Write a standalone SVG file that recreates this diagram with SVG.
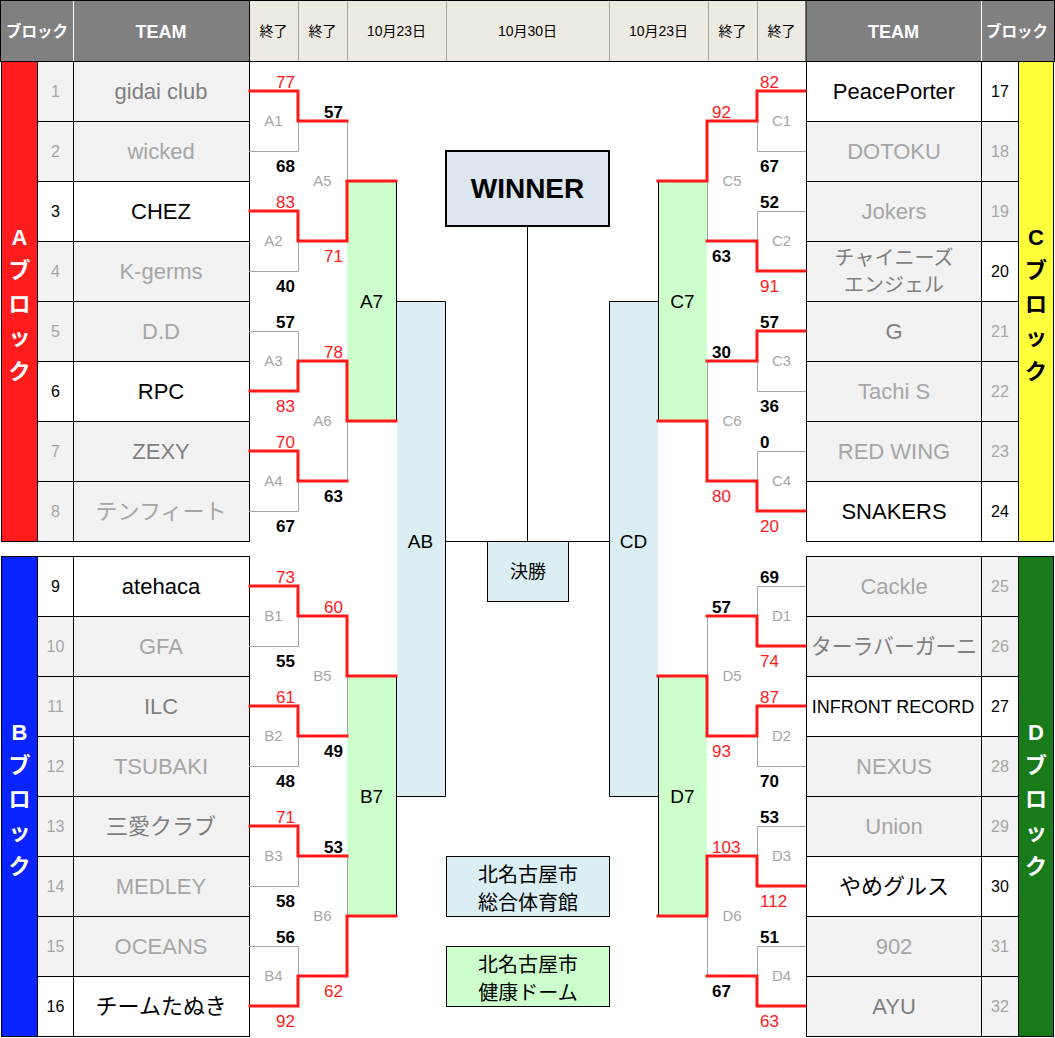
<svg xmlns="http://www.w3.org/2000/svg" width="1055" height="1038" viewBox="0 0 1055 1038">
<style>
text{font-family:"Liberation Sans","Noto Sans CJK JP",sans-serif}
.cell{stroke:#000;stroke-width:1}
.rw{fill:#fff}
.rg{fill:#F2F2F2}
.tm{font-size:22px;text-anchor:middle}
.num{font-size:16px;text-anchor:middle}
.c0{fill:#000}
.c1{fill:#7F7F7F}
.c2{fill:#A6A6A6}
.br{stroke:#A6A6A6;stroke-width:1;fill:none}
.edge{stroke:#000;stroke-width:1;fill:none}
.win{stroke:#FF1A1A;stroke-width:3;fill:none;stroke-linejoin:miter;stroke-linecap:square}
.sc{font-size:17px}
.scr{fill:#FF1A1A}
.scb{fill:#000;font-weight:bold}
.lbl{font-size:15px;fill:#A6A6A6;text-anchor:middle}
.big{font-size:19px;fill:#000;text-anchor:middle}
.hd{font-size:14px;fill:#000;text-anchor:middle}
.hw{font-size:18px;fill:#fff;font-weight:bold;text-anchor:middle}
.hb{font-size:15.5px;fill:#fff;font-weight:bold;text-anchor:middle}
.blk{font-size:22px;font-weight:bold;text-anchor:middle}
.green{fill:#CCFFCC}
.blue{fill:#DAEEF3}
</style>
<rect x="0" y="0" width="1055" height="1038" fill="#fff"/>

<g id="header">
<rect x="0.5" y="0.5" width="248.5" height="61" fill="#808080"/>
<rect x="249" y="0.5" width="557" height="61" fill="#EDEAE2"/>
<rect x="806" y="0.5" width="248" height="61" fill="#808080"/>
<path d="M73.5 1V61M981.5 1V61" stroke="#fff" stroke-width="1"/>
<path d="M298.5 1V61M347.5 1V61M446.5 1V61M609.5 1V61M708.5 1V61M757.5 1V61" stroke="#A6A6A6" stroke-width="1"/>
<rect x="0.5" y="0.5" width="1054" height="61" fill="none" stroke="#000" stroke-width="1"/>
<path d="M249.5 1V61M806 1V61" stroke="#000" stroke-width="1"/>
<text class="hb" x="37" y="37">ブロック</text>
<text class="hw" x="161" y="38">TEAM</text>
<text class="hd" x="273.5" y="36">終了</text>
<text class="hd" x="322.5" y="36">終了</text>
<text class="hd" x="396.5" y="36">10月23日</text>
<text class="hd" x="527.5" y="36">10月30日</text>
<text class="hd" x="658.5" y="36">10月23日</text>
<text class="hd" x="732.5" y="36">終了</text>
<text class="hd" x="781.5" y="36">終了</text>
<text class="hw" x="893.5" y="38">TEAM</text>
<text class="hb" x="1017" y="37">ブロック</text>
</g>

<g id="block-A">
<rect class="cell" x="1.5" y="61.5" width="36" height="480" fill="#FF1C1C"/>
<text class="blk" x="19.5" y="245" fill="#fff">A</text>
<text class="blk" x="19.5" y="278" fill="#fff">ブ</text>
<text class="blk" x="19.5" y="312" fill="#fff">ロ</text>
<text class="blk" x="19.5" y="345" fill="#fff">ッ</text>
<text class="blk" x="19.5" y="379" fill="#fff">ク</text>
</g>
<g id="block-B">
<rect class="cell" x="1.5" y="556.5" width="36" height="480" fill="#0A24FF"/>
<text class="blk" x="19.5" y="740" fill="#fff">B</text>
<text class="blk" x="19.5" y="773" fill="#fff">ブ</text>
<text class="blk" x="19.5" y="807" fill="#fff">ロ</text>
<text class="blk" x="19.5" y="840" fill="#fff">ッ</text>
<text class="blk" x="19.5" y="874" fill="#fff">ク</text>
</g>
<g id="block-C">
<rect class="cell" x="1018.5" y="61.5" width="35" height="480" fill="#FFFF3C"/>
<text class="blk" x="1036" y="245" fill="#000">C</text>
<text class="blk" x="1036" y="278" fill="#000">ブ</text>
<text class="blk" x="1036" y="312" fill="#000">ロ</text>
<text class="blk" x="1036" y="345" fill="#000">ッ</text>
<text class="blk" x="1036" y="379" fill="#000">ク</text>
</g>
<g id="block-D">
<rect class="cell" x="1018.5" y="556.5" width="35" height="480" fill="#187A18"/>
<text class="blk" x="1036" y="740" fill="#fff">D</text>
<text class="blk" x="1036" y="773" fill="#fff">ブ</text>
<text class="blk" x="1036" y="807" fill="#fff">ロ</text>
<text class="blk" x="1036" y="840" fill="#fff">ッ</text>
<text class="blk" x="1036" y="874" fill="#fff">ク</text>
</g>

<!-- Left teams -->
<g id="team-1"><rect class="cell rg" x="37.5" y="61.5" width="36" height="60"/><rect class="cell rg" x="73.5" y="61.5" width="176" height="60"/><text class="num c2" x="55.5" y="97">1</text><text class="tm c1" x="161" y="99">gidai club</text></g>
<g id="team-2"><rect class="cell rg" x="37.5" y="121.5" width="36" height="60"/><rect class="cell rg" x="73.5" y="121.5" width="176" height="60"/><text class="num c2" x="55.5" y="157">2</text><text class="tm c2" x="161" y="159">wicked</text></g>
<g id="team-3"><rect class="cell rw" x="37.5" y="181.5" width="36" height="60"/><rect class="cell rw" x="73.5" y="181.5" width="176" height="60"/><text class="num c0" x="55.5" y="217">3</text><text class="tm c0" x="161" y="219">CHEZ</text></g>
<g id="team-4"><rect class="cell rg" x="37.5" y="241.5" width="36" height="60"/><rect class="cell rg" x="73.5" y="241.5" width="176" height="60"/><text class="num c2" x="55.5" y="277">4</text><text class="tm c2" x="161" y="279">K-germs</text></g>
<g id="team-5"><rect class="cell rg" x="37.5" y="301.5" width="36" height="60"/><rect class="cell rg" x="73.5" y="301.5" width="176" height="60"/><text class="num c2" x="55.5" y="337">5</text><text class="tm c2" x="161" y="339">D.D</text></g>
<g id="team-6"><rect class="cell rw" x="37.5" y="361.5" width="36" height="60"/><rect class="cell rw" x="73.5" y="361.5" width="176" height="60"/><text class="num c0" x="55.5" y="397">6</text><text class="tm c0" x="161" y="399">RPC</text></g>
<g id="team-7"><rect class="cell rg" x="37.5" y="421.5" width="36" height="60"/><rect class="cell rg" x="73.5" y="421.5" width="176" height="60"/><text class="num c2" x="55.5" y="457">7</text><text class="tm c1" x="161" y="459">ZEXY</text></g>
<g id="team-8"><rect class="cell rg" x="37.5" y="481.5" width="36" height="60"/><rect class="cell rg" x="73.5" y="481.5" width="176" height="60"/><text class="num c2" x="55.5" y="517">8</text><text class="tm c2" x="161" y="519">テンフィート</text></g>
<g id="team-9"><rect class="cell rw" x="37.5" y="556.5" width="36" height="60"/><rect class="cell rw" x="73.5" y="556.5" width="176" height="60"/><text class="num c0" x="55.5" y="592">9</text><text class="tm c0" x="161" y="594">atehaca</text></g>
<g id="team-10"><rect class="cell rg" x="37.5" y="616.5" width="36" height="60"/><rect class="cell rg" x="73.5" y="616.5" width="176" height="60"/><text class="num c2" x="55.5" y="652">10</text><text class="tm c2" x="161" y="654">GFA</text></g>
<g id="team-11"><rect class="cell rg" x="37.5" y="676.5" width="36" height="60"/><rect class="cell rg" x="73.5" y="676.5" width="176" height="60"/><text class="num c2" x="55.5" y="712">11</text><text class="tm c1" x="161" y="714">ILC</text></g>
<g id="team-12"><rect class="cell rg" x="37.5" y="736.5" width="36" height="60"/><rect class="cell rg" x="73.5" y="736.5" width="176" height="60"/><text class="num c2" x="55.5" y="772">12</text><text class="tm c2" x="161" y="774">TSUBAKI</text></g>
<g id="team-13"><rect class="cell rg" x="37.5" y="796.5" width="36" height="60"/><rect class="cell rg" x="73.5" y="796.5" width="176" height="60"/><text class="num c2" x="55.5" y="832">13</text><text class="tm c1" x="161" y="834">三愛クラブ</text></g>
<g id="team-14"><rect class="cell rg" x="37.5" y="856.5" width="36" height="60"/><rect class="cell rg" x="73.5" y="856.5" width="176" height="60"/><text class="num c2" x="55.5" y="892">14</text><text class="tm c2" x="161" y="894">MEDLEY</text></g>
<g id="team-15"><rect class="cell rg" x="37.5" y="916.5" width="36" height="60"/><rect class="cell rg" x="73.5" y="916.5" width="176" height="60"/><text class="num c2" x="55.5" y="952">15</text><text class="tm c2" x="161" y="954">OCEANS</text></g>
<g id="team-16"><rect class="cell rw" x="37.5" y="976.5" width="36" height="60"/><rect class="cell rw" x="73.5" y="976.5" width="176" height="60"/><text class="num c0" x="55.5" y="1012">16</text><text class="tm c0" x="161" y="1014">チームたぬき</text></g>

<!-- Right teams -->
<g id="team-17"><rect class="cell rw" x="806.5" y="61.5" width="175" height="60"/><rect class="cell rw" x="981.5" y="61.5" width="37" height="60"/><text class="num c0" x="1000" y="97">17</text><text class="tm c0" x="894" y="99">PeacePorter</text></g>
<g id="team-18"><rect class="cell rg" x="806.5" y="121.5" width="175" height="60"/><rect class="cell rg" x="981.5" y="121.5" width="37" height="60"/><text class="num c2" x="1000" y="157">18</text><text class="tm c2" x="894" y="159">DOTOKU</text></g>
<g id="team-19"><rect class="cell rg" x="806.5" y="181.5" width="175" height="60"/><rect class="cell rg" x="981.5" y="181.5" width="37" height="60"/><text class="num c2" x="1000" y="217">19</text><text class="tm c2" x="894" y="219">Jokers</text></g>
<g id="team-20"><rect class="cell rg" x="806.5" y="241.5" width="175" height="60"/><rect class="cell rw" x="981.5" y="241.5" width="37" height="60"/><text class="num c0" x="1000" y="277">20</text><text class="c1" x="894" y="265" font-size="20" text-anchor="middle">チャイニーズ</text><text class="c1" x="894" y="292" font-size="20" text-anchor="middle">エンジェル</text></g>
<g id="team-21"><rect class="cell rg" x="806.5" y="301.5" width="175" height="60"/><rect class="cell rg" x="981.5" y="301.5" width="37" height="60"/><text class="num c2" x="1000" y="337">21</text><text class="tm c1" x="894" y="339">G</text></g>
<g id="team-22"><rect class="cell rg" x="806.5" y="361.5" width="175" height="60"/><rect class="cell rg" x="981.5" y="361.5" width="37" height="60"/><text class="num c2" x="1000" y="397">22</text><text class="tm c2" x="894" y="399">Tachi S</text></g>
<g id="team-23"><rect class="cell rg" x="806.5" y="421.5" width="175" height="60"/><rect class="cell rg" x="981.5" y="421.5" width="37" height="60"/><text class="num c2" x="1000" y="457">23</text><text class="tm c2" x="894" y="459">RED WING</text></g>
<g id="team-24"><rect class="cell rw" x="806.5" y="481.5" width="175" height="60"/><rect class="cell rw" x="981.5" y="481.5" width="37" height="60"/><text class="num c0" x="1000" y="517">24</text><text class="tm c0" x="894" y="519">SNAKERS</text></g>
<g id="team-25"><rect class="cell rg" x="806.5" y="556.5" width="175" height="60"/><rect class="cell rg" x="981.5" y="556.5" width="37" height="60"/><text class="num c2" x="1000" y="592">25</text><text class="tm c2" x="894" y="594">Cackle</text></g>
<g id="team-26"><rect class="cell rg" x="806.5" y="616.5" width="175" height="60"/><rect class="cell rg" x="981.5" y="616.5" width="37" height="60"/><text class="num c2" x="1000" y="652">26</text><text class="tm c1" x="894" y="654" textLength="166" lengthAdjust="spacingAndGlyphs">ターラバーガーニ</text></g>
<g id="team-27"><rect class="cell rw" x="806.5" y="676.5" width="175" height="60"/><rect class="cell rw" x="981.5" y="676.5" width="37" height="60"/><text class="num c0" x="1000" y="712">27</text><text class="c0" x="893" y="713" font-size="18" text-anchor="middle">INFRONT RECORD</text></g>
<g id="team-28"><rect class="cell rg" x="806.5" y="736.5" width="175" height="60"/><rect class="cell rg" x="981.5" y="736.5" width="37" height="60"/><text class="num c2" x="1000" y="772">28</text><text class="tm c2" x="894" y="774">NEXUS</text></g>
<g id="team-29"><rect class="cell rg" x="806.5" y="796.5" width="175" height="60"/><rect class="cell rg" x="981.5" y="796.5" width="37" height="60"/><text class="num c2" x="1000" y="832">29</text><text class="tm c2" x="894" y="834">Union</text></g>
<g id="team-30"><rect class="cell rw" x="806.5" y="856.5" width="175" height="60"/><rect class="cell rw" x="981.5" y="856.5" width="37" height="60"/><text class="num c0" x="1000" y="892">30</text><text class="tm c0" x="894" y="894">やめグルス</text></g>
<g id="team-31"><rect class="cell rg" x="806.5" y="916.5" width="175" height="60"/><rect class="cell rg" x="981.5" y="916.5" width="37" height="60"/><text class="num c2" x="1000" y="952">31</text><text class="tm c2" x="894" y="954">902</text></g>
<g id="team-32"><rect class="cell rg" x="806.5" y="976.5" width="175" height="60"/><rect class="cell rg" x="981.5" y="976.5" width="37" height="60"/><text class="num c2" x="1000" y="1012">32</text><text class="tm c1" x="894" y="1014">AYU</text></g>

<!-- Green / blue match boxes -->
<g id="A7"><rect class="green" x="347" y="181" width="49" height="240"/><path class="edge" d="M396.5 181V421"/><text class="big" x="371.5" y="308">A7</text></g>
<g id="B7"><rect class="green" x="347" y="676" width="49" height="240"/><path class="edge" d="M396.5 676V916"/><text class="big" x="371.5" y="803">B7</text></g>
<g id="C7"><rect class="green" x="658" y="181" width="49" height="240"/><path class="edge" d="M658.5 181V421"/><text class="big" x="682.5" y="308">C7</text></g>
<g id="D7"><rect class="green" x="658" y="676" width="49" height="240"/><path class="edge" d="M658.5 676V916"/><text class="big" x="682.5" y="803">D7</text></g>
<g id="AB"><rect class="blue" x="397" y="301" width="48" height="495"/><path class="edge" d="M396 301.5H445.5V796.5H396"/><text class="big" x="420.5" y="548">AB</text></g>
<g id="CD"><rect class="blue" x="610" y="301" width="48" height="495"/><path class="edge" d="M658 301.5H609.5V796.5H658"/><text class="big" x="633.5" y="548">CD</text></g>

<g id="connectors">
<path class="br" d="M249 91.5H298.5V151.5H249M249 211.5H298.5V271.5H249M249 331.5H298.5V391.5H249M249 451.5H298.5V511.5H249M249 586.5H298.5V646.5H249M249 706.5H298.5V766.5H249M249 826.5H298.5V886.5H249M249 946.5H298.5V1006.5H249"/>
<path class="br" d="M298 121.5H347.5V241.5H298M298 361.5H347.5V481.5H298M298 616.5H347.5V736.5H298M298 856.5H347.5V976.5H298"/>
<path class="br" d="M806 91.5H757.5V151.5H806M806 211.5H757.5V271.5H806M806 331.5H757.5V391.5H806M806 451.5H757.5V511.5H806M806 586.5H757.5V646.5H806M806 706.5H757.5V766.5H806M806 826.5H757.5V886.5H806M806 946.5H757.5V1006.5H806"/>
<path class="br" d="M757 121.5H707.5V241.5H757M757 361.5H707.5V481.5H757M757 616.5H707.5V736.5H757M757 856.5H707.5V976.5H757"/>
<path class="edge" d="M445 541.5H609M527.5 226V541"/>
<path class="win" d="M250 91H298V121H347"/>
<path class="win" d="M250 211H298V241H347V181H396"/>
<path class="win" d="M250 391H298V361H347V421H396"/>
<path class="win" d="M250 451H298V481H347"/>
<path class="win" d="M250 586H298V616H347V676H396"/>
<path class="win" d="M250 706H298V736H347"/>
<path class="win" d="M250 826H298V856H347"/>
<path class="win" d="M250 1006H298V976H347V916H396"/>
<path class="win" d="M805 91H757V121H707V181H658"/>
<path class="win" d="M805 271H757V241H707"/>
<path class="win" d="M805 331H757V361H707"/>
<path class="win" d="M805 511H757V481H707V421H658"/>
<path class="win" d="M805 646H757V616H707"/>
<path class="win" d="M805 706H757V736H707V676H658"/>
<path class="win" d="M805 886H757V856H707V916H658"/>
<path class="win" d="M805 1006H757V976H707"/>
</g>

<g id="match-labels">
<text class="lbl" x="273.5" y="126">A1</text>
<text class="lbl" x="273.5" y="246">A2</text>
<text class="lbl" x="273.5" y="366">A3</text>
<text class="lbl" x="273.5" y="486">A4</text>
<text class="lbl" x="322.5" y="186">A5</text>
<text class="lbl" x="322.5" y="426">A6</text>
<text class="lbl" x="273.5" y="621">B1</text>
<text class="lbl" x="273.5" y="741">B2</text>
<text class="lbl" x="273.5" y="861">B3</text>
<text class="lbl" x="273.5" y="981">B4</text>
<text class="lbl" x="322.5" y="681">B5</text>
<text class="lbl" x="322.5" y="921">B6</text>
<text class="lbl" x="781.5" y="126">C1</text>
<text class="lbl" x="781.5" y="246">C2</text>
<text class="lbl" x="781.5" y="366">C3</text>
<text class="lbl" x="781.5" y="486">C4</text>
<text class="lbl" x="732" y="186">C5</text>
<text class="lbl" x="732" y="426">C6</text>
<text class="lbl" x="781.5" y="621">D1</text>
<text class="lbl" x="781.5" y="741">D2</text>
<text class="lbl" x="781.5" y="861">D3</text>
<text class="lbl" x="781.5" y="981">D4</text>
<text class="lbl" x="732" y="681">D5</text>
<text class="lbl" x="732" y="921">D6</text>
</g>

<g id="scores-left" text-anchor="end">
<text class="sc scr" x="295" y="88">77</text>
<text class="sc scb" x="295" y="172">68</text>
<text class="sc scr" x="295" y="208">83</text>
<text class="sc scb" x="295" y="292">40</text>
<text class="sc scb" x="295" y="328">57</text>
<text class="sc scr" x="295" y="412">83</text>
<text class="sc scr" x="295" y="448">70</text>
<text class="sc scb" x="295" y="532">67</text>
<text class="sc scr" x="295" y="583">73</text>
<text class="sc scb" x="295" y="667">55</text>
<text class="sc scr" x="295" y="703">61</text>
<text class="sc scb" x="295" y="787">48</text>
<text class="sc scr" x="295" y="823">71</text>
<text class="sc scb" x="295" y="907">58</text>
<text class="sc scb" x="295" y="943">56</text>
<text class="sc scr" x="295" y="1027">92</text>
<text class="sc scb" x="343" y="118">57</text>
<text class="sc scr" x="343" y="262">71</text>
<text class="sc scr" x="343" y="358">78</text>
<text class="sc scb" x="343" y="502">63</text>
<text class="sc scr" x="343" y="613">60</text>
<text class="sc scb" x="343" y="757">49</text>
<text class="sc scb" x="343" y="853">53</text>
<text class="sc scr" x="343" y="997">62</text>
</g>
<g id="scores-right" text-anchor="start">
<text class="sc scr" x="760" y="88">82</text>
<text class="sc scb" x="760" y="172">67</text>
<text class="sc scb" x="760" y="208">52</text>
<text class="sc scr" x="760" y="292">91</text>
<text class="sc scb" x="760" y="328">57</text>
<text class="sc scb" x="760" y="412">36</text>
<text class="sc scb" x="760" y="448">0</text>
<text class="sc scr" x="760" y="532">20</text>
<text class="sc scb" x="760" y="583">69</text>
<text class="sc scr" x="760" y="667">74</text>
<text class="sc scr" x="760" y="703">87</text>
<text class="sc scb" x="760" y="787">70</text>
<text class="sc scb" x="760" y="823">53</text>
<text class="sc scr" x="760" y="907">112</text>
<text class="sc scb" x="760" y="943">51</text>
<text class="sc scr" x="760" y="1027">63</text>
<text class="sc scr" x="712" y="118">92</text>
<text class="sc scb" x="712" y="262">63</text>
<text class="sc scb" x="712" y="358">30</text>
<text class="sc scr" x="712" y="502">80</text>
<text class="sc scb" x="712" y="613">57</text>
<text class="sc scr" x="712" y="757">93</text>
<text class="sc scr" x="712" y="853">103</text>
<text class="sc scb" x="712" y="997">67</text>
</g>

<g id="winner">
<rect x="446" y="151" width="163" height="75" fill="#DCE6F1" stroke="#000" stroke-width="2"/>
<text x="527.5" y="198" font-size="28" font-weight="bold" text-anchor="middle" fill="#000">WINNER</text>
</g>
<g id="final">
<rect x="487.5" y="541.5" width="81" height="60" fill="#DAEEF3" stroke="#000" stroke-width="1"/>
<text x="528" y="578" font-size="18" text-anchor="middle" fill="#000">決勝</text>
</g>
<g id="legend-gym">
<rect x="446.5" y="856.5" width="163" height="60" fill="#DAEEF3" stroke="#000" stroke-width="1"/>
<text x="528" y="882" font-size="20" text-anchor="middle" fill="#000">北名古屋市</text>
<text x="528" y="910" font-size="20" text-anchor="middle" fill="#000">総合体育館</text>
</g>
<g id="legend-dome">
<rect x="446.5" y="946.5" width="163" height="60" fill="#CCFFCC" stroke="#000" stroke-width="1"/>
<text x="528" y="972" font-size="20" text-anchor="middle" fill="#000">北名古屋市</text>
<text x="528" y="1000" font-size="20" text-anchor="middle" fill="#000">健康ドーム</text>
</g>
</svg>
